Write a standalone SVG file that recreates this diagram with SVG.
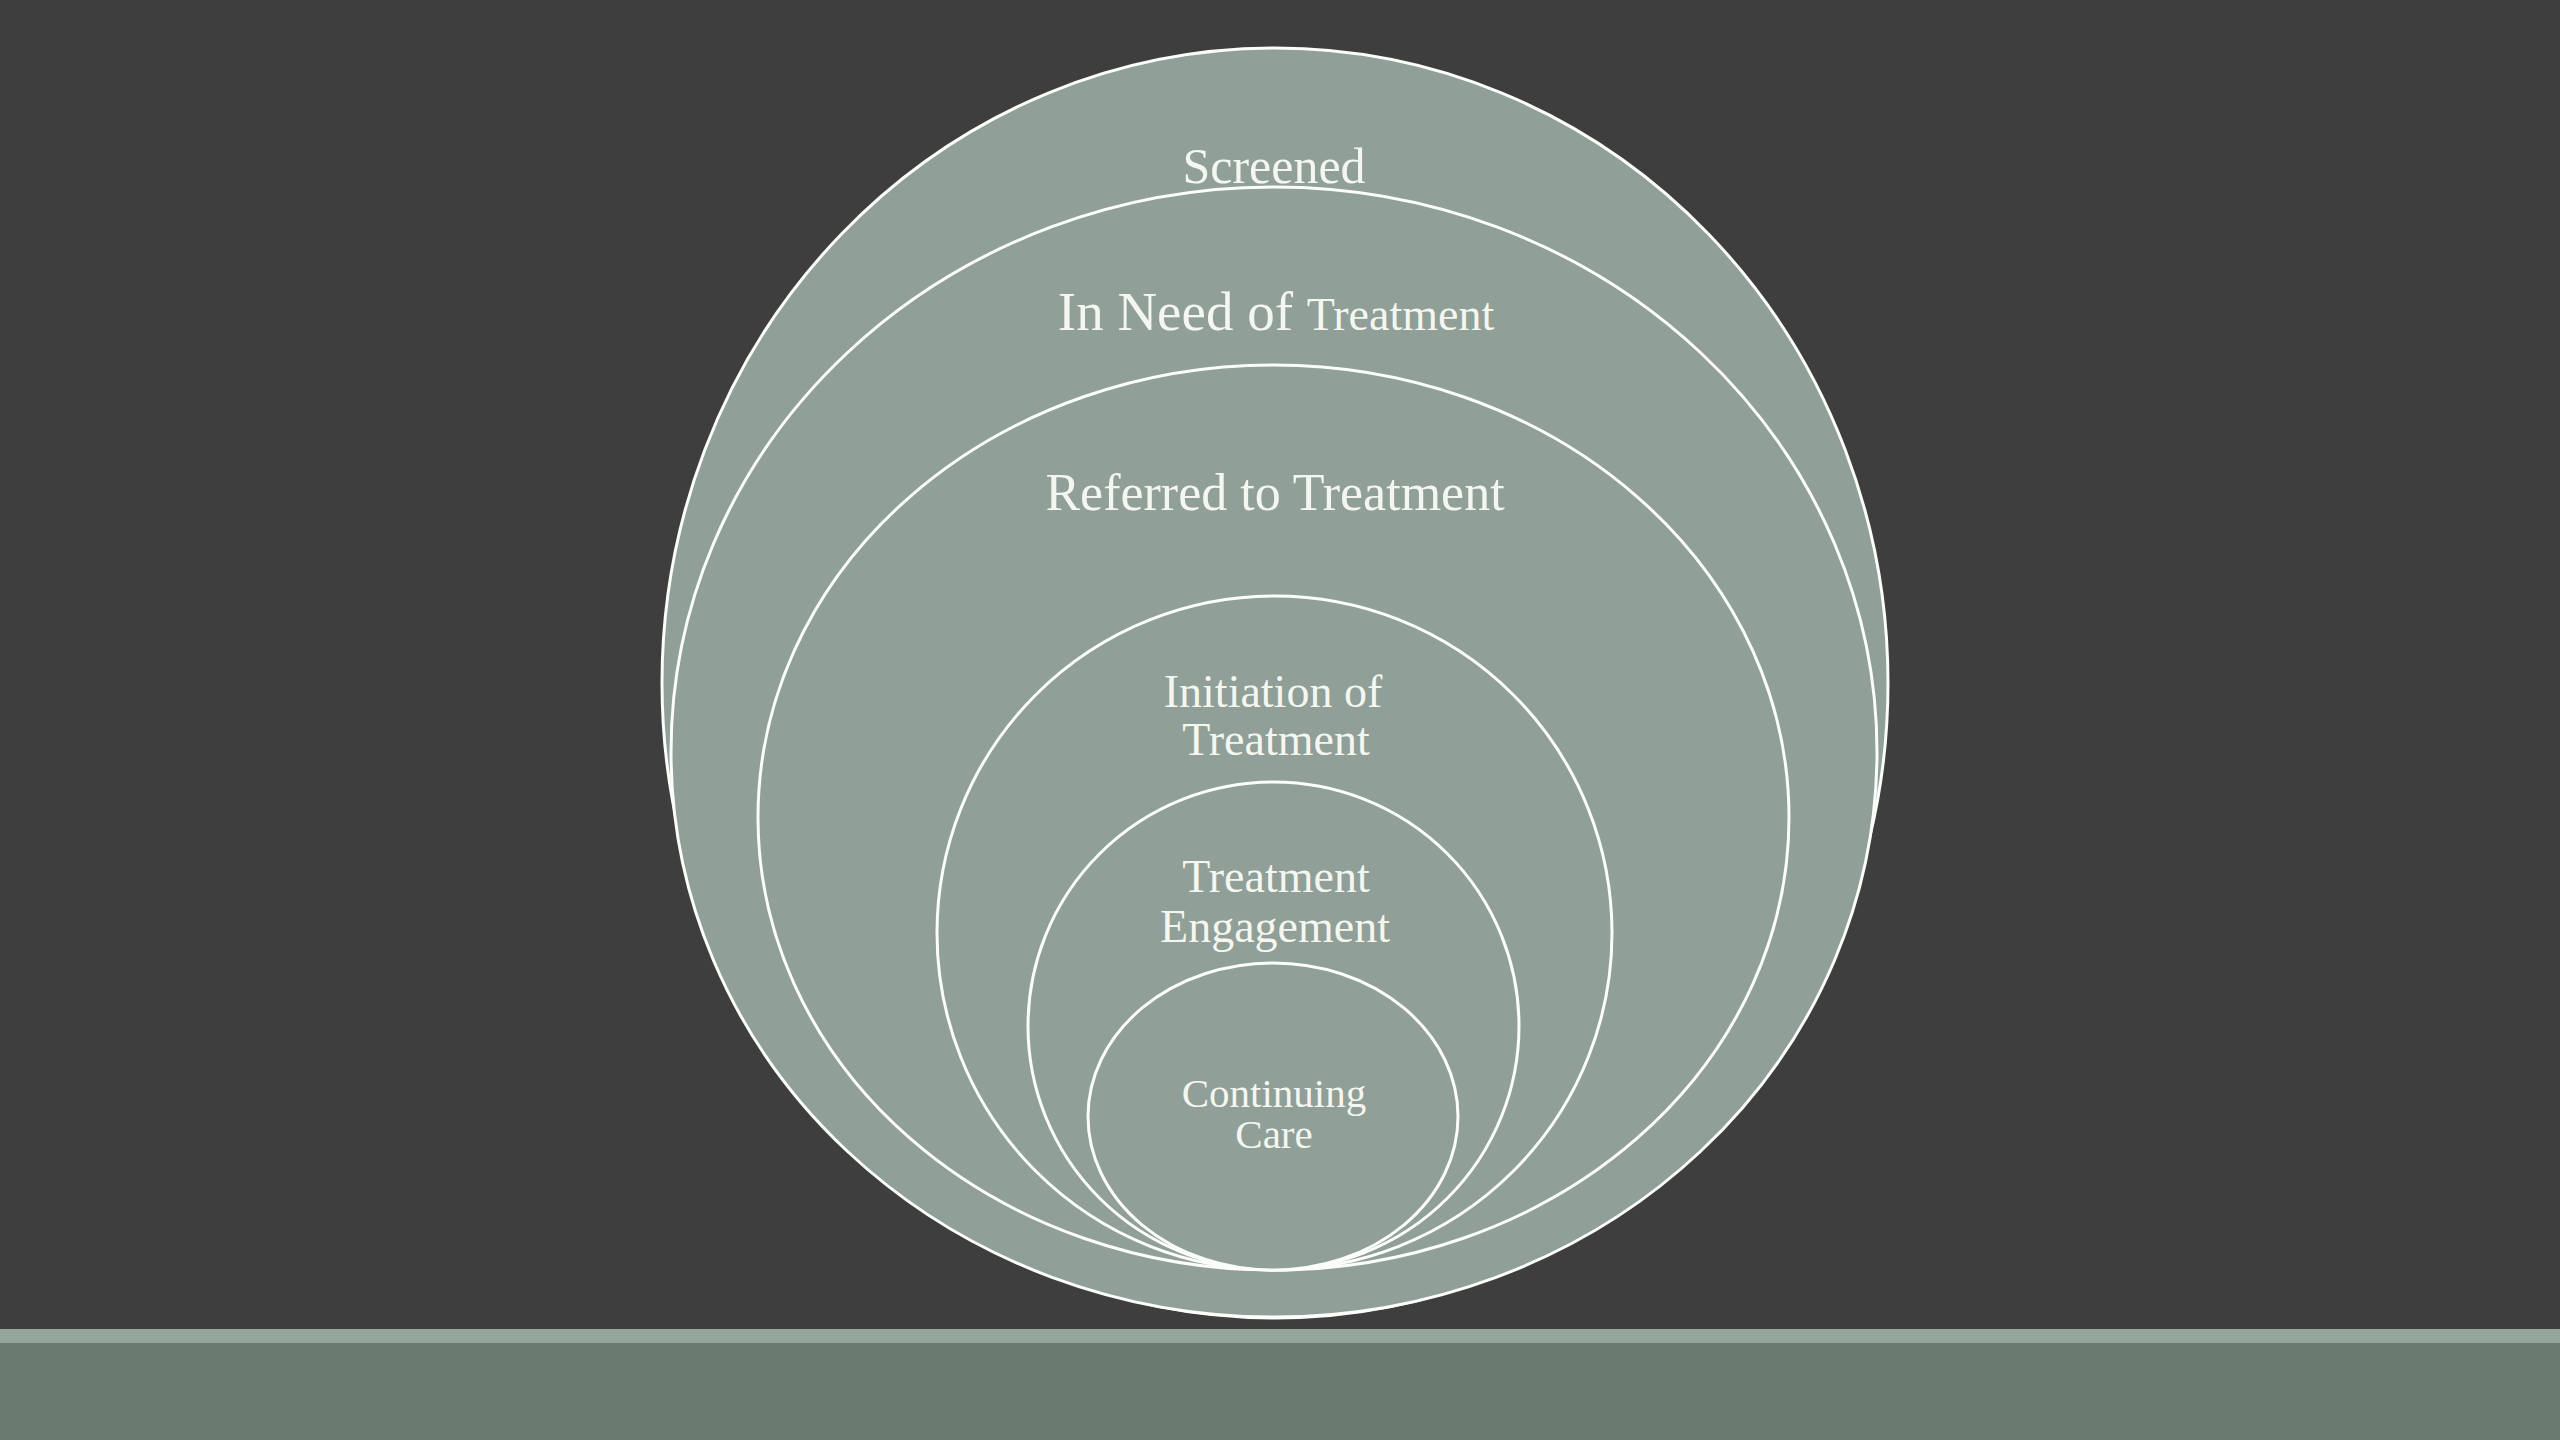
<svg xmlns="http://www.w3.org/2000/svg" width="2560" height="1440" viewBox="0 0 2560 1440">
<style>
.c{fill:#909f97;stroke:#fbfdf9;stroke-width:3}
.t{font-family:"Liberation Serif","Times New Roman",serif;fill:#f4f6f0;text-anchor:middle}
</style>
<rect x="0" y="0" width="2560" height="1440" fill="#3e3e3e"/>
<rect x="0" y="1329" width="2560" height="14" fill="#95a59c"/>
<rect x="0" y="1343" width="2560" height="97" fill="#697a6f"/>
<g id="screened">
<ellipse class="c" cx="1275" cy="683" rx="613" ry="635"/>
<text class="t" x="1274" y="183" font-size="50">Screened</text>
</g>
<g id="in-need">
<ellipse class="c" cx="1274" cy="752" rx="603" ry="565"/>
<text class="t" x="1276" y="330" font-size="55">In Need of <tspan font-size="46">Treatment</tspan></text>
</g>
<g id="referred">
<ellipse class="c" cx="1273.5" cy="817.5" rx="515.5" ry="452.5"/>
<text class="t" x="1275" y="510" font-size="52">Referred to Treatment</text>
</g>
<g id="initiation">
<ellipse class="c" cx="1274.5" cy="933" rx="337.5" ry="337"/>
<text class="t" x="1273" y="707" font-size="46">Initiation of</text>
<text class="t" x="1276" y="755" font-size="46">Treatment</text>
</g>
<g id="engagement">
<ellipse class="c" cx="1273.5" cy="1026" rx="245.5" ry="244"/>
<text class="t" x="1276" y="892" font-size="46">Treatment</text>
<text class="t" x="1275" y="942" font-size="46">Engagement</text>
</g>
<g id="continuing">
<ellipse class="c" cx="1273" cy="1116.5" rx="185" ry="153.5"/>
<text class="t" x="1274" y="1107" font-size="41">Continuing</text>
<text class="t" x="1274" y="1148" font-size="41">Care</text>
</g>
<g id="connectors"></g>
</svg>
